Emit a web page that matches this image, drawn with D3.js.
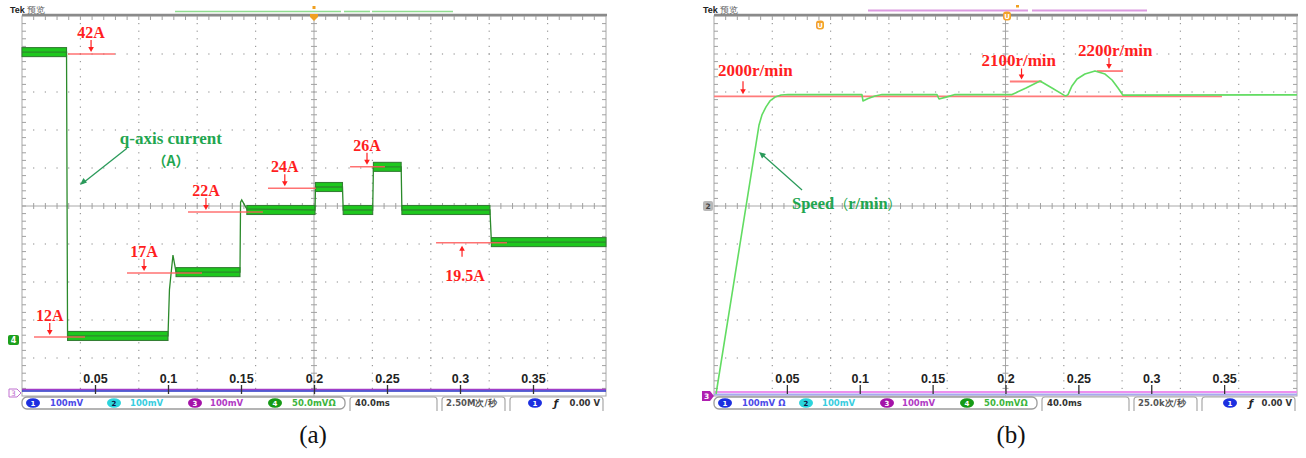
<!DOCTYPE html>
<html>
<head>
<meta charset="utf-8">
<script src="https://cdn.jsdelivr.net/npm/d3@7"></script>
<style>
body { margin: 0; background: #fff; }
svg { display: block; }
</style>
</head>
<body>
<svg id="chart" width="1306" height="458"></svg>
<script>
'use strict';

// time axis of both scope shots (s)
const timeTicks = [0.05, 0.1, 0.15, 0.2, 0.25, 0.3, 0.35];

// (a) q-axis current trace, in scope divisions (centre line = 0)
const currentTime = [0, 0.0305, 0.0312, 0.1, 0.101, 0.1034, 0.1055, 0.1493, 0.1497, 0.1505, 0.154,
    0.2007, 0.201, 0.2195, 0.22, 0.2402, 0.2407, 0.2597, 0.2602, 0.3205, 0.3215, 0.4];
const currentDiv = [4.05, 4.05, -3.42, -3.42, -2.2, -1.29, -1.74, -1.74, 0.1, 0.16, -0.08,
    -0.105, 0.5, 0.5, -0.105, -0.105, 1.03, 1.03, -0.105, -0.105, -0.95, -0.95];
// noisy plateaus of the current trace
const bandStart = [0, 0.0312, 0.1055, 0.154, 0.201, 0.22, 0.2407, 0.2602, 0.3215];
const bandEnd = [0.0305, 0.1, 0.1493, 0.2007, 0.2195, 0.2402, 0.2597, 0.3205, 0.4];
const bandLevel = [4.05, -3.42, -1.74, -0.105, 0.5, -0.105, 1.03, -0.105, -0.95];

// (a) red reference marks
const currentRefLabel = ['42A', '12A', '17A', '22A', '24A', '26A', '19.5A'];
const currentRefLevel = [4.0, -3.45, -1.76, -0.16, 0.47, 1.03, -0.97];
const currentRefFrom = [0.0315, 0.0082, 0.0719, 0.1137, 0.1685, 0.2247, 0.2836];
const currentRefTo = [0.0637, 0.0432, 0.1233, 0.165, 0.2014, 0.2486, 0.3322];
const currentRefArrow = [0.0473, 0.019, 0.0836, 0.126, 0.18, 0.2363, 0.3014];
const currentRefBelow = [false, false, false, false, false, false, true];

// (b) speed trace (r/min)
const speedTime = [0.0014, 0.0309, 0.0329, 0.0357, 0.0384, 0.0419, 0.046, 0.0508,
    0.1015, 0.1022, 0.1057, 0.1105, 0.1153,
    0.153, 0.1544, 0.1592, 0.1654,
    0.2045, 0.2141, 0.2237, 0.2319, 0.2401, 0.2415, 0.2429,
    0.2456, 0.2491, 0.2545, 0.2614, 0.2683, 0.2731, 0.2772, 0.2806, 0.4];
const speedRpm = [0, 1808, 1875, 1929, 1969, 1995, 2009, 2012,
    2012, 1969, 1986, 2003, 2012,
    2012, 1982, 1995, 2012,
    2012, 2056, 2103, 2056, 2008, 2003, 2012,
    2070, 2117, 2150, 2171, 2150, 2110, 2056, 2008, 2010];

// (b) red reference marks
const speedRefLabel = ['2000r/min', '2100r/min', '2200r/min'];
const speedRefLevel = [2000, 2100, 2170];
const speedRefFrom = [0, 0.203, 0.2627];
const speedRefTo = [0.3485, 0.225, 0.2806];
const speedRefArrow = [0.0199, 0.211, 0.271];
const speedRefText = [0.0028, 0.1835, 0.2497];

const plotTop = 16, plotBottom = 396;
const xA = d3.scaleLinear().domain([0, 0.4]).range([22, 606]);
const yA = d3.scaleLinear().domain([-5, 5]).range([plotBottom, plotTop]);
const xB = d3.scaleLinear().domain([0, 0.4]).range([714, 1297]);
const yB = d3.scaleLinear().domain([0, 2540]).range([394, plotTop]);

const svg = d3.select('#chart');
const RED = '#ff1f1f', REFLINE = '#ff5a5a';

function drawFrame(left, right) {
    let g = svg.append('g');
    let gx = d3.scaleLinear().domain([0, 50]).range([left, right]);
    let gy = d3.scaleLinear().domain([0, 50]).range([plotTop, plotBottom]);
    let minor = d3.range(1, 50);
    let major = [5, 10, 15, 20, 30, 35, 40, 45];
    major.forEach(i => {
        g.selectAll(null).data(minor).enter().append('rect')
            .attr('x', gx(i) - 0.6).attr('y', d => gy(d) - 0.6)
            .attr('width', 1.2).attr('height', 1.2).attr('fill', '#9a9a9a');
        g.selectAll(null).data(minor).enter().append('rect')
            .attr('x', d => gx(d) - 0.6).attr('y', gy(i) - 0.6)
            .attr('width', 1.2).attr('height', 1.2).attr('fill', '#9a9a9a');
    });
    // centre cross
    g.append('line').attr('x1', left).attr('x2', right).attr('y1', gy(25)).attr('y2', gy(25))
        .attr('stroke', '#a8a8a8');
    g.append('line').attr('x1', gx(25)).attr('x2', gx(25)).attr('y1', plotTop).attr('y2', plotBottom)
        .attr('stroke', '#a8a8a8');
    g.selectAll(null).data(minor).enter().append('line')
        .attr('x1', d => gx(d)).attr('x2', d => gx(d))
        .attr('y1', gy(25) - 3).attr('y2', gy(25) + 3).attr('stroke', '#a0a0a0');
    g.selectAll(null).data(minor).enter().append('line')
        .attr('y1', d => gy(d)).attr('y2', d => gy(d))
        .attr('x1', gx(25) - 3).attr('x2', gx(25) + 3).attr('stroke', '#a0a0a0');
    // border with inner ticks
    g.append('rect').attr('x', left).attr('y', plotTop)
        .attr('width', right - left).attr('height', plotBottom - plotTop)
        .attr('fill', 'none').attr('stroke', '#a8a8a8');
    g.append('line').attr('x1', left).attr('x2', right + 1).attr('y1', plotTop - 1).attr('y2', plotTop - 1)
        .attr('stroke', '#8a8a8a').attr('stroke-width', 2.5);
    g.selectAll(null).data(minor).enter().append('line')
        .attr('y1', d => gy(d)).attr('y2', d => gy(d))
        .attr('x1', left).attr('x2', left + 4).attr('stroke', '#a0a0a0');
    g.selectAll(null).data(minor).enter().append('line')
        .attr('y1', d => gy(d)).attr('y2', d => gy(d))
        .attr('x1', right - 4).attr('x2', right).attr('stroke', '#a0a0a0');
    g.selectAll(null).data(minor).enter().append('line')
        .attr('x1', d => gx(d)).attr('x2', d => gx(d))
        .attr('y1', plotTop).attr('y2', plotTop + 4).attr('stroke', '#a0a0a0');
    return g;
}

function drawStatus(left, ch1Text, rateText, timeLabelX) {
    let g = svg.append('g').attr('transform', 'translate(' + left + ',0)')
        .style('font-family', 'DejaVu Sans, sans-serif').style('font-weight', 'bold')
        .style('font-size', '8.5px');
    let y0 = 397, h = 12, cy = y0 + h / 2, base = cy + 3;
    g.append('rect').attr('x', 0).attr('y', y0).attr('width', 323).attr('height', h)
        .attr('rx', 5).attr('fill', '#fff').attr('stroke', '#9c9c9c').attr('stroke-width', 1.3);
    let chans = [
        {ox: 11, fill: '#1c2fe0', fg: '#fff', n: '1', tx: 28, col: '#4a4ae8', t: ch1Text},
        {ox: 92, fill: '#2ad4dc', fg: '#114', n: '2', tx: 108, col: '#38cde0', t: '100mV'},
        {ox: 173, fill: '#a412a8', fg: '#fff', n: '3', tx: 188, col: '#b03ac4', t: '100mV'},
        {ox: 253, fill: '#159a15', fg: '#fff', n: '4', tx: 270, col: '#3cb43c', t: '50.0mVΩ'}
    ];
    chans.forEach(c => {
        g.append('ellipse').attr('cx', c.ox).attr('cy', cy).attr('rx', 7).attr('ry', 4.8).attr('fill', c.fill);
        g.append('text').attr('x', c.ox).attr('y', base - 0.5).attr('text-anchor', 'middle')
            .attr('fill', c.fg).style('font-size', '7px').text(c.n);
        g.append('text').attr('x', c.tx).attr('y', base).attr('fill', c.col).text(c.t);
    });
    let boxes = [[328, 415], [420, 483], [488, 581]];
    boxes.forEach(b => {
        g.append('path')
            .attr('d', 'M' + b[0] + ',' + (y0 + h + 2) + 'V' + (y0 + 3) + 'Q' + b[0] + ',' + y0 + ' ' + (b[0] + 3) + ',' + y0
                + 'H' + (b[1] - 3) + 'Q' + b[1] + ',' + y0 + ' ' + b[1] + ',' + (y0 + 3) + 'V' + (y0 + h + 2))
            .attr('fill', 'none').attr('stroke', '#a8a8a8').attr('stroke-width', 1.2);
    });
    g.append('text').attr('x', 333).attr('y', base).attr('fill', '#333').text('40.0ms');
    g.append('text').attr('x', 424).attr('y', base).attr('fill', '#555').text(rateText);
    g.append('ellipse').attr('cx', timeLabelX).attr('cy', cy).attr('rx', 7).attr('ry', 4.8).attr('fill', '#1c2fe0');
    g.append('text').attr('x', timeLabelX).attr('y', base - 0.5).attr('text-anchor', 'middle')
        .attr('fill', '#fff').style('font-size', '7px').text('1');
    g.append('text').attr('x', timeLabelX + 21).attr('y', base + 1).attr('text-anchor', 'middle')
        .attr('fill', '#222').style('font-style', 'italic').style('font-size', '10px').text('ƒ');
    g.append('text').attr('x', 578).attr('y', base).attr('text-anchor', 'end').attr('fill', '#333').text('0.00 V');
}

function drawAxis(x) {
    let ax = svg.append('g').attr('transform', 'translate(0,394)')
        .call(d3.axisTop(x).tickValues(timeTicks).tickSize(9).tickPadding(2).tickFormat(d3.format('')));
    ax.select('.domain').remove();
    ax.selectAll('line').attr('stroke', '#333').attr('stroke-width', 1.3);
    ax.selectAll('text').attr('fill', '#222')
        .style('font-family', 'Liberation Sans, Arial, sans-serif')
        .style('font-weight', 'bold').style('font-size', '12.5px');
}

function arrowHead(g, x, y, dir, color) {
    // dir: +1 pointing down, -1 pointing up
    g.append('path')
        .attr('d', 'M' + (x - 2.8) + ',' + (y - dir * 5) + 'L' + (x + 2.8) + ',' + (y - dir * 5) + 'L' + x + ',' + y + 'Z')
        .attr('fill', color);
}

// ---------------- panel (a) ----------------
drawFrame(22, 606);

// flat channel 1 / 3 traces at the bottom
svg.append('line').attr('x1', 22).attr('x2', 606).attr('y1', 389.5).attr('y2', 389.5)
    .attr('stroke', '#a23cc8').attr('stroke-width', 1.6);
svg.append('line').attr('x1', 22).attr('x2', 606).attr('y1', 391).attr('y2', 391)
    .attr('stroke', '#2630c4').attr('stroke-width', 1.4);
drawAxis(xA);

let traceA = svg.append('g');
traceA.selectAll(null)
    .data(d3.range(bandStart.length))
    .enter().append('rect')
    .attr('x', i => xA(bandStart[i]))
    .attr('y', i => yA(bandLevel[i]) - 4.5)
    .attr('width', i => xA(bandEnd[i]) - xA(bandStart[i]))
    .attr('height', 9)
    .attr('fill', '#1ec81e')
    .attr('stroke', '#347f34')
    .attr('stroke-width', 1.1);
let lineA = d3.line().x(i => xA(currentTime[i])).y(i => yA(currentDiv[i]));
traceA.append('path')
    .attr('d', lineA(d3.range(currentTime.length)))
    .attr('fill', 'none').attr('stroke', '#2b8a2b').attr('stroke-width', 1.3);

let refA = svg.append('g');
currentRefLabel.forEach((lab, i) => {
    let yl = yA(currentRefLevel[i]);
    let xa = xA(currentRefArrow[i]);
    refA.append('line').attr('x1', xA(currentRefFrom[i])).attr('x2', xA(currentRefTo[i]))
        .attr('y1', yl).attr('y2', yl).attr('stroke', REFLINE).attr('stroke-width', 1.5).attr('opacity', 0.85);
    if (currentRefBelow[i]) {
        refA.append('line').attr('x1', xa).attr('x2', xa).attr('y1', yl + 14).attr('y2', yl + 5)
            .attr('stroke', RED).attr('stroke-width', 1.2);
        arrowHead(refA, xa, yl + 3, -1, RED);
        refA.append('text').attr('x', xa + 3).attr('y', yl + 38).text(lab);
    } else {
        refA.append('line').attr('x1', xa).attr('x2', xa).attr('y1', yl - 14).attr('y2', yl - 5)
            .attr('stroke', RED).attr('stroke-width', 1.2);
        arrowHead(refA, xa, yl - 2, 1, RED);
        refA.append('text').attr('x', xa).attr('y', yl - 16).text(lab);
    }
});
refA.selectAll('text').attr('text-anchor', 'middle').attr('fill', RED)
    .style('font-family', 'Liberation Serif, Times New Roman, serif')
    .style('font-weight', 'bold').style('font-size', '16px');

// q-axis label and pointer
let labA = svg.append('g').attr('fill', '#1fa650')
    .style('font-family', 'Liberation Serif, Times New Roman, serif').style('font-weight', 'bold');
labA.append('text').attr('x', xA(0.102)).attr('y', yA(1.64)).attr('text-anchor', 'middle')
    .style('font-size', '17px').text('q-axis current');
labA.append('text').attr('x', xA(0.102)).attr('y', yA(1.06)).attr('text-anchor', 'middle')
    .style('font-family', 'Noto Sans CJK SC, sans-serif').style('font-size', '14px').text('（A）');
labA.append('line').attr('x1', xA(0.0719)).attr('y1', yA(1.6) + 3).attr('x2', xA(0.0397) + 3).attr('y2', yA(0.55) - 2)
    .attr('stroke', '#2a9a5a').attr('stroke-width', 1.3);
labA.append('path')
    .attr('d', 'M' + xA(0.0397) + ',' + yA(0.55) + 'l7,-2.5l-3.5,-4.5z').attr('fill', '#2a9a5a');

// markers around the frame
svg.append('text').attr('x', 10).attr('y', 13).attr('fill', '#222')
    .style('font-family', 'Liberation Sans, Arial, sans-serif').style('font-size', '9px')
    .html('<tspan font-weight="bold">Tek</tspan> <tspan fill="#666">预览</tspan>');
[[175, 341], [344, 370], [372, 453]].forEach(s => {
    svg.append('line').attr('x1', s[0]).attr('x2', s[1]).attr('y1', 11.5).attr('y2', 11.5)
        .attr('stroke', '#8fdc8f').attr('stroke-width', 1.6);
});
svg.append('path').attr('d', 'M310,14h8v3l-4,4l-4,-4z').attr('fill', '#f0a020');
svg.append('rect').attr('x', 312.5).attr('y', 6).attr('width', 3).attr('height', 3).attr('fill', '#f0a020');
svg.append('rect').attr('x', 8).attr('y', 335).attr('width', 11).attr('height', 10).attr('rx', 2)
    .attr('fill', '#1da01d');
svg.append('text').attr('x', 13.5).attr('y', 343).attr('text-anchor', 'middle').attr('fill', '#fff')
    .style('font-family', 'DejaVu Sans, sans-serif').style('font-size', '8px').style('font-weight', 'bold').text('4');
svg.append('path').attr('d', 'M9,389h8l4,4l-4,4h-8z').attr('fill', '#fff').attr('stroke', '#c070d0').attr('stroke-width', 1);
svg.append('text').attr('x', 13.5).attr('y', 396).attr('text-anchor', 'middle').attr('fill', '#c070d0')
    .style('font-family', 'DejaVu Sans, sans-serif').style('font-size', '7.5px').text('3');

drawStatus(22, '100mV', '2.50M次/秒', 513);

// ---------------- panel (b) ----------------
drawFrame(714, 1297);

svg.append('line').attr('x1', 714).attr('x2', 1297).attr('y1', 392).attr('y2', 392)
    .attr('stroke', '#ee90ee').attr('stroke-width', 2.2);
svg.append('line').attr('x1', 714).attr('x2', 1297).attr('y1', 394.5).attr('y2', 394.5)
    .attr('stroke', '#a8a8f0').attr('stroke-width', 2);
drawAxis(xB);

let refB = svg.append('g');
speedRefLabel.forEach((lab, i) => {
    let yl = yB(speedRefLevel[i]);
    let xa = xB(speedRefArrow[i]);
    refB.append('line').attr('x1', xB(speedRefFrom[i])).attr('x2', xB(speedRefTo[i]))
        .attr('y1', yl).attr('y2', yl).attr('stroke', '#ff7a7a').attr('stroke-width', 1.8);
    let top = i === 0 ? yl - 15 : yl - 13;
    refB.append('line').attr('x1', xa).attr('x2', xa).attr('y1', top).attr('y2', yl - 5)
        .attr('stroke', RED).attr('stroke-width', 1.2);
    arrowHead(refB, xa, yl - 2, 1, RED);
    refB.append('text').attr('x', xB(speedRefText[i])).attr('y', i === 0 ? yl - 20 : yl - 15).text(lab);
});
refB.selectAll('text').attr('fill', RED)
    .style('font-family', 'Liberation Serif, Times New Roman, serif')
    .style('font-weight', 'bold').style('font-size', '17px');

let lineB = d3.line().x(i => xB(speedTime[i])).y(i => yB(speedRpm[i]));
svg.append('path')
    .attr('d', lineB(d3.range(speedTime.length)))
    .attr('fill', 'none').attr('stroke', '#62dc62').attr('stroke-width', 1.6)
    .attr('stroke-linejoin', 'round');

let labB = svg.append('g').attr('fill', '#1fa650');
labB.append('text').attr('x', xB(0.0535)).attr('y', yB(1243))
    .style('font-family', 'Liberation Serif, Times New Roman, serif').style('font-weight', 'bold')
    .style('font-size', '16.5px')
    .html('Speed<tspan style="font-family:Noto Sans CJK SC,sans-serif;font-weight:normal;font-size:14px">（</tspan>r/min<tspan style="font-family:Noto Sans CJK SC,sans-serif;font-weight:normal;font-size:14px">）</tspan>');
labB.append('line').attr('x1', xB(0.0604)).attr('y1', yB(1371)).attr('x2', xB(0.0309) + 3).attr('y2', yB(1626) + 2.5)
    .attr('stroke', '#2a9a5a').attr('stroke-width', 1.3);
labB.append('path')
    .attr('d', 'M' + xB(0.0309) + ',' + yB(1626) + 'l3,6.5l4,-4.5z').attr('fill', '#2a9a5a');

svg.append('text').attr('x', 703).attr('y', 13).attr('fill', '#222')
    .style('font-family', 'Liberation Sans, Arial, sans-serif').style('font-size', '9px')
    .html('<tspan font-weight="bold">Tek</tspan> <tspan fill="#666">预览</tspan>');
[[868, 1028], [1032, 1147]].forEach(s => {
    svg.append('line').attr('x1', s[0]).attr('x2', s[1]).attr('y1', 10.5).attr('y2', 10.5)
        .attr('stroke', '#dc9ae0').attr('stroke-width', 1.8);
});
[[820, 25], [1007, 16]].forEach(p => {
    svg.append('rect').attr('x', p[0] - 4).attr('y', p[1] - 4.5).attr('width', 8).attr('height', 9).attr('rx', 3)
        .attr('fill', '#f3a22a');
    svg.append('text').attr('x', p[0]).attr('y', p[1] + 3).attr('text-anchor', 'middle').attr('fill', '#fff')
        .style('font-family', 'DejaVu Sans, sans-serif').style('font-size', '7px').style('font-weight', 'bold').text('U');
});
svg.append('rect').attr('x', 1016).attr('y', 5).attr('width', 3).attr('height', 2.5).attr('fill', '#f0a020');
svg.append('rect').attr('x', 703).attr('y', 201).attr('width', 10).attr('height', 10).attr('rx', 2)
    .attr('fill', '#b8b8b8');
svg.append('text').attr('x', 708).attr('y', 209).attr('text-anchor', 'middle').attr('fill', '#444')
    .style('font-family', 'DejaVu Sans, sans-serif').style('font-size', '7.5px').style('font-weight', 'bold').text('2');
svg.append('path').attr('d', 'M702,391h8l4,5l-4,5h-8z').attr('fill', '#b020b0');
svg.append('text').attr('x', 706.5).attr('y', 399).attr('text-anchor', 'middle').attr('fill', '#fff')
    .style('font-family', 'DejaVu Sans, sans-serif').style('font-size', '7.5px').style('font-weight', 'bold').text('3');

drawStatus(714, '100mV Ω', '25.0k次/秒', 516);

// captions
svg.selectAll(null).data([['(a)', 313], ['(b)', 1011]]).enter().append('text')
    .attr('x', d => d[1]).attr('y', 443).attr('text-anchor', 'middle').attr('fill', '#111')
    .style('font-family', 'Liberation Serif, Times New Roman, serif').style('font-size', '25px')
    .text(d => d[0]);
</script>
</body>
</html>
